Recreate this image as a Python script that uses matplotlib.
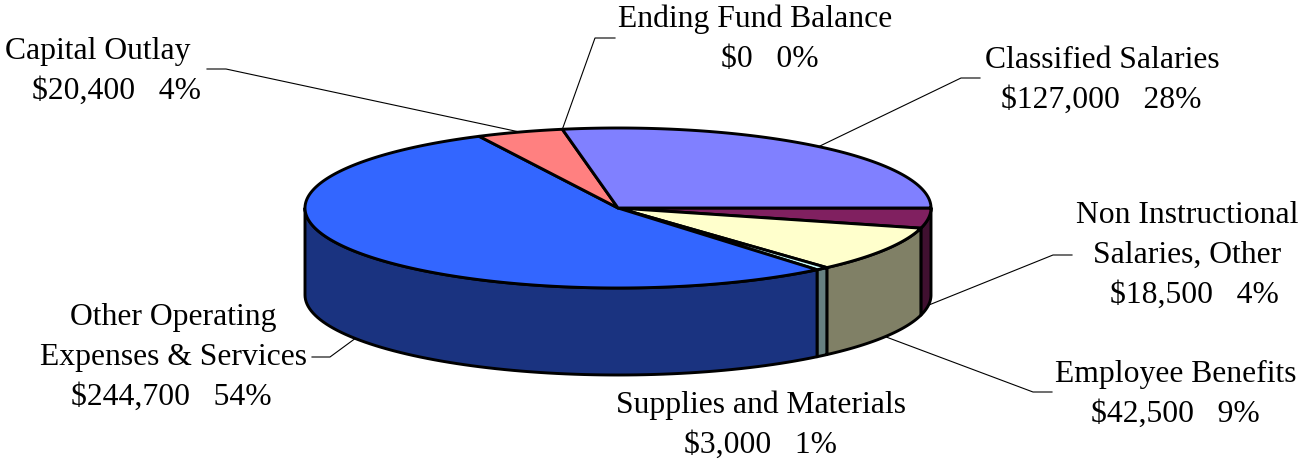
import numpy as np
import matplotlib
matplotlib.use("Agg")
import matplotlib.pyplot as plt

# Slices in drawing order: start at 3 o'clock, go clockwise
categories = ["Non Instructional|Salaries, Other", "Employee Benefits", "Supplies and Materials",
              "Other Operating|Expenses & Services", "Capital Outlay", "Ending Fund Balance",
              "Classified Salaries"]
values = [18500, 42500, 3000, 244700, 20400, 0, 127000]
top_colors = ["#802060", "#FFFFCC", "#CCFFFF", "#3366FF", "#FF8080", "#993366", "#8080FF"]

# pie geometry in pixels
cx, cy, rx, ry, depth = 618, 208, 313, 80, 87

# label placement: (x centre of each line, first baseline)
label_pos = [
    ([1187, 1187, 1194], 223),
    ([1176, 1175], 382),
    ([761, 760], 413),
    ([173, 173, 171], 325),
    ([98, 116], 59),
    ([755, 770], 27),
    ([1102, 1101], 68),
]
# leader: (label end, elbow) or None
leaders = [
    ((1072, 255), (1053, 255)),
    ((1052, 392), (1033, 392)),
    None,
    ((312, 357), (330, 357)),
    ((207, 69), (226, 69)),
    ((615, 38), (595, 38)),
    ((980, 78), (961, 78)),
]

total = sum(values)
fracs = [v / total for v in values]


def darker(c):
    rgb = matplotlib.colors.to_rgb(c)
    return tuple(0.5 * x for x in rgb)


def pt(theta_deg, drop=0):
    t = np.radians(theta_deg)
    return cx + rx * np.cos(t), cy - ry * np.sin(t) + drop


fig = plt.figure(figsize=(13.02, 4.62), dpi=100)
ax = fig.add_axes([0, 0, 1, 1])
ax.set_xlim(0, 1302)
ax.set_ylim(462, 0)
ax.axis("off")

# angles (clockwise => decreasing theta)
starts = []
a = 0.0
for f in fracs:
    starts.append((a, a - 360 * f))
    a -= 360 * f

# side walls (front half: theta in [-180, 0])
for (a0, a1), col in zip(starts, top_colors):
    lo, hi = max(a1, -180), min(a0, 0)
    if hi - lo <= 0:
        continue
    th = np.linspace(hi, lo, 80)
    xs, ys = pt(th)
    px = np.concatenate([xs, xs[::-1]])
    py = np.concatenate([ys, ys[::-1] + depth])
    ax.fill(px, py, facecolor=darker(col), edgecolor="black", linewidth=2.1,
            joinstyle="round", zorder=1)

# top faces
for (a0, a1), col in zip(starts, top_colors):
    if a0 - a1 <= 0:
        continue
    th = np.linspace(a0, a1, max(int((a0 - a1) * 2), 4))
    xs, ys = pt(th)
    px = np.concatenate([[cx], xs])
    py = np.concatenate([[cy], ys])
    ax.fill(px, py, facecolor=col, edgecolor="black", linewidth=2.1, joinstyle="round", zorder=2)

# labels and leader lines
for i, name in enumerate(categories):
    pct = round(100 * values[i] / total)
    lines = name.split("|") + [f"${values[i]:,}   {pct}%"]
    xs, base = label_pos[i]
    for k, line in enumerate(lines):
        ax.text(xs[k], base + 40 * k, line, ha="center", va="baseline",
                fontsize=22.8, family="Liberation Serif", color="black", zorder=3)
    if leaders[i] is not None:
        a0, a1 = starts[i]
        mid = (a0 + a1) / 2
        drop = depth if np.sin(np.radians(mid)) < 0 else 0
        ex, ey = pt(mid, drop)
        (lx, ly), (bx, by) = leaders[i]
        ax.plot([lx, bx, ex], [ly, by, ey], color="black", linewidth=0.8, zorder=0.5)

fig.savefig("out.png", dpi=100)
